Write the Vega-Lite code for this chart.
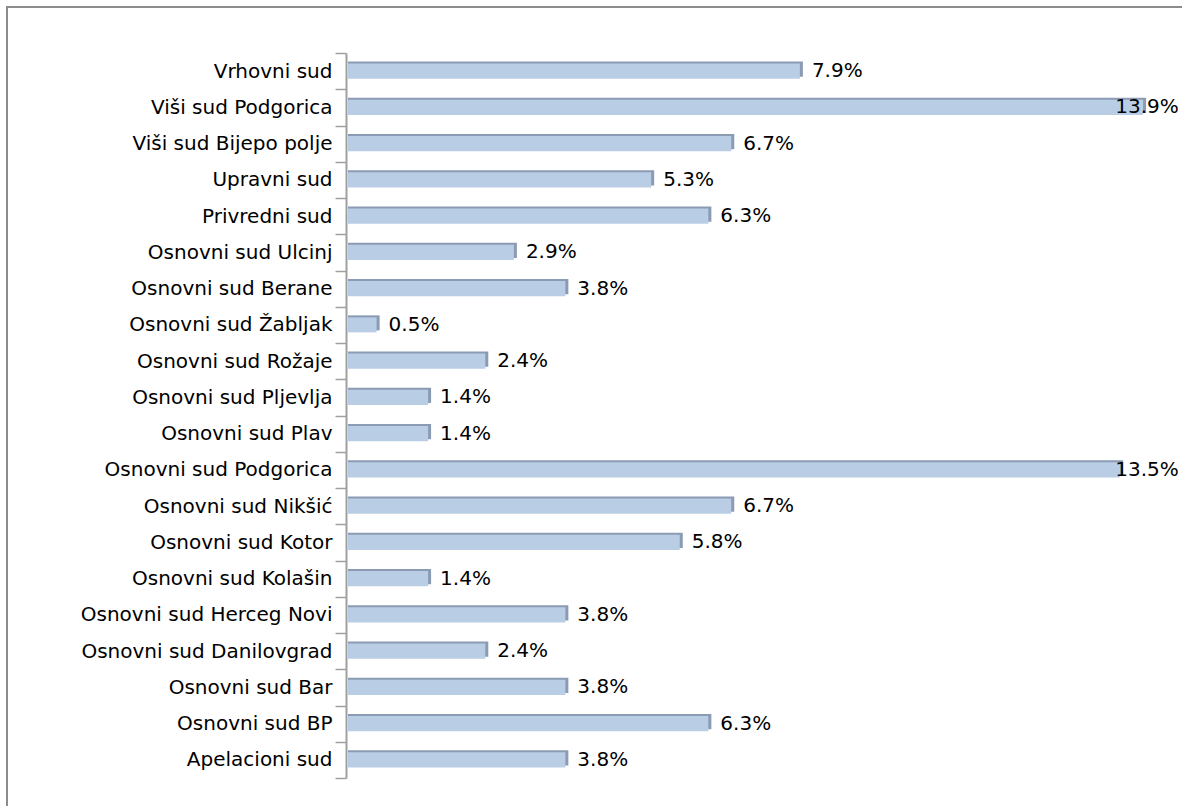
{
  "$schema": "https://vega.github.io/schema/vega-lite/v6.json",
  "width": 1190,
  "height": 817,
  "autosize": {"type": "none"},
  "padding": {"left": 7, "top": 7, "right": 0, "bottom": 0},
  "background": "white",
  "config": {
    "view": {"stroke": "#8c8c8c", "strokeWidth": 2},
    "font": "DejaVu Sans"
  },
  "data": {
    "values": [
      {"court": "Vrhovni  sud", "value": 0.079},
      {"court": "Viši sud Podgorica", "value": 0.139},
      {"court": "Viši sud Bijepo polje", "value": 0.067},
      {"court": "Upravni sud", "value": 0.053},
      {"court": "Privredni sud", "value": 0.063},
      {"court": "Osnovni sud Ulcinj", "value": 0.029},
      {"court": "Osnovni sud Berane", "value": 0.038},
      {"court": "Osnovni sud Žabljak", "value": 0.005},
      {"court": "Osnovni sud Rožaje", "value": 0.024},
      {"court": "Osnovni sud Pljevlja", "value": 0.014},
      {"court": "Osnovni sud Plav", "value": 0.014},
      {"court": "Osnovni sud Podgorica", "value": 0.135},
      {"court": "Osnovni sud Nikšić", "value": 0.067},
      {"court": "Osnovni sud Kotor", "value": 0.058},
      {"court": "Osnovni sud Kolašin", "value": 0.014},
      {"court": "Osnovni sud Herceg Novi", "value": 0.038},
      {"court": "Osnovni sud Danilovgrad", "value": 0.024},
      {"court": "Osnovni sud Bar", "value": 0.038},
      {"court": "Osnovni sud BP", "value": 0.063},
      {"court": "Apelacioni sud", "value": 0.038}
    ]
  },
  "encoding": {
    "y": {
      "field": "court",
      "type": "nominal",
      "sort": null,
      "scale": {"range": [46, 771], "paddingInner": 0, "paddingOuter": 0},
      "axis": {
        "title": null,
        "offset": -339,
        "domainColor": "#a0a0a0",
        "domainWidth": 2,
        "tickColor": "#a0a0a0",
        "tickWidth": 1.5,
        "tickSize": 11,
        "tickBand": "extent",
        "labelPadding": 3,
        "labelFont": "DejaVu Sans",
        "labelFontSize": 20,
        "labelColor": "#000000",
        "labelLimit": 400,
        "grid": false
      }
    }
  },
  "layer": [
    {
      "mark": {"type": "bar", "color": "#8a9bb3", "xOffset": 3, "yOffset": -2, "height": {"band": 0.414}},
      "encoding": {
        "x": {
          "field": "value",
          "type": "quantitative",
          "scale": {"domain": [-0.05962, 0.14843], "nice": false, "zero": false},
          "axis": null
        },
        "x2": {"datum": 0}
      }
    },
    {
      "mark": {"type": "bar", "color": "#b9cde5", "height": {"band": 0.414}},
      "encoding": {
        "x": {"field": "value", "type": "quantitative"},
        "x2": {"datum": 0}
      }
    },
    {
      "transform": [{"filter": "datum.value < 0.12"}],
      "mark": {"type": "text", "align": "left", "baseline": "middle", "dx": 12, "fontSize": 20, "color": "#000000", "font": "DejaVu Sans"},
      "encoding": {
        "x": {"field": "value", "type": "quantitative"},
        "text": {"field": "value", "type": "quantitative", "format": ".1%"}
      }
    },
    {
      "transform": [{"filter": "datum.value >= 0.12"}],
      "mark": {"type": "text", "align": "left", "baseline": "middle", "dx": -5, "fontSize": 20, "color": "#000000", "font": "DejaVu Sans"},
      "encoding": {
        "x": {"datum": 0.135, "type": "quantitative"},
        "text": {"field": "value", "type": "quantitative", "format": ".1%"}
      }
    }
  ]
}
